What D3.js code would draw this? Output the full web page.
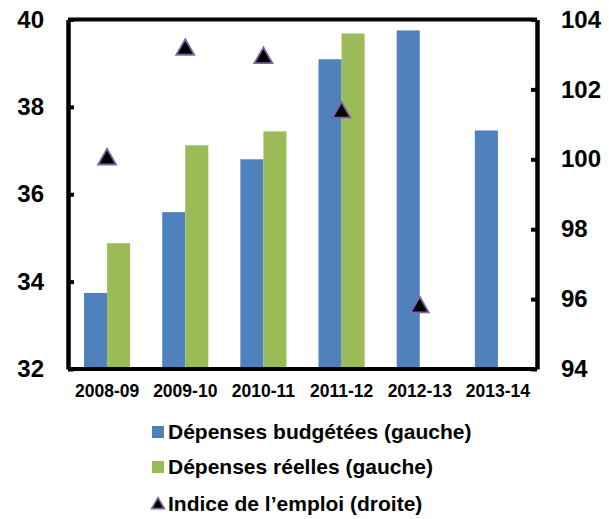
<!DOCTYPE html>
<html>
<head>
<meta charset="utf-8">
<script src="https://cdn.jsdelivr.net/npm/d3@7"></script>
<style>
  body { margin: 0; background: #fff; }
  text { font-family: "Liberation Sans", Arial, sans-serif; font-weight: bold; }
</style>
</head>
<body>
<svg id="chart" width="609" height="519"></svg>
<script>
// Fiscal years
const categories = ["2008-09", "2009-10", "2010-11", "2011-12", "2012-13", "2013-14"];
// Budgeted spending (left axis)
const budgeted = [33.74, 35.59, 36.8, 39.09, 39.75, 37.46];
// Actual spending (left axis)
const actual = [34.88, 37.12, 37.44, 39.68, null, null];
// Employment index (right axis)
const employment = [100.0, 103.14, 102.9, 101.34, 95.77, null];
const leftTicks = [32, 34, 36, 38, 40];
const rightTicks = [94, 96, 98, 100, 102, 104];
const legendLabels = ["Dépenses budgétées (gauche)", "Dépenses réelles (gauche)", "Indice de l’emploi (droite)"];

const blue = "#4F81BD", green = "#9BBB59", purple = "#7F63A8";
const font = "'Liberation Sans', Arial, sans-serif";
const svg = d3.select("#chart");
const m = { left: 68, right: 537, top: 19.5, bottom: 369 };

const x = d3.scaleBand().domain(categories).range([m.left, m.right]).paddingInner(0.41).paddingOuter(0.205);
const xs = d3.scaleBand().domain(["b", "a"]).range([0, x.bandwidth()]);
const yL = d3.scaleLinear().domain([32, 40]).range([m.bottom, m.top]);
const yR = d3.scaleLinear().domain([94, 104]).range([m.bottom, m.top]);

// Bars
const series = [{ key: "b", vals: budgeted, color: blue }, { key: "a", vals: actual, color: green }];
series.forEach(s => {
  svg.append("g").selectAll("rect")
    .data(categories.map((c, i) => ({ c, v: s.vals[i] })).filter(d => d.v != null))
    .join("rect")
    .attr("x", d => x(d.c) + xs(s.key))
    .attr("width", xs.bandwidth())
    .attr("y", d => yL(d.v))
    .attr("height", d => yL(32) - yL(d.v))
    .attr("fill", s.color);
});

// Frame: top line and bottom axis line
svg.append("line").attr("x1", m.left).attr("x2", m.right).attr("y1", m.top).attr("y2", m.top)
  .attr("stroke", "#000").attr("stroke-width", 4);
svg.append("line").attr("x1", m.left).attr("x2", m.right).attr("y1", m.bottom).attr("y2", m.bottom)
  .attr("stroke", "#000").attr("stroke-width", 4);

function styleAxis(g, size) {
  g.select(".domain").attr("stroke-width", 4.5);
  g.selectAll(".tick line").attr("stroke-width", 4);
  g.selectAll(".tick text").attr("font-size", size).attr("fill", "#000")
    .attr("font-family", font).attr("font-weight", "bold");
}

// Left axis
const gl = svg.append("g").attr("transform", `translate(${m.left},0)`)
  .call(d3.axisLeft(yL).tickValues(leftTicks).tickSize(-6).tickSizeOuter(0).tickPadding(24).tickFormat(d3.format("d")));
styleAxis(gl, 24);

// Right axis
const gr = svg.append("g").attr("transform", `translate(${m.right},0)`)
  .call(d3.axisRight(yR).tickValues(rightTicks).tickSize(-6).tickSizeOuter(0).tickPadding(24).tickFormat(d3.format("d")));
styleAxis(gr, 24);

// Category labels
const gx = svg.append("g").attr("transform", `translate(0,${m.bottom})`)
  .call(d3.axisBottom(x).tickSize(0).tickPadding(16));
gx.select(".domain").remove();
styleAxis(gx, 17.5);

// Employment index triangles
const tri = d3.symbol().type(d3.symbolTriangle).size(140);
svg.append("g").selectAll("path")
  .data(categories.map((c, i) => ({ c, v: employment[i] })).filter(d => d.v != null))
  .join("path")
  .attr("d", tri)
  .attr("transform", d => `translate(${x(d.c) + x.bandwidth() / 2},${yR(d.v)})`)
  .attr("fill", "#000").attr("stroke", purple).attr("stroke-width", 1.8);

// Legend
const lg = svg.append("g");
const ly = [432, 467, 504];
lg.append("rect").attr("x", 152).attr("y", ly[0] - 6).attr("width", 12).attr("height", 12).attr("fill", blue);
lg.append("rect").attr("x", 152).attr("y", ly[1] - 6).attr("width", 12).attr("height", 12).attr("fill", green);
lg.append("path").attr("d", d3.symbol().type(d3.symbolTriangle).size(70))
  .attr("transform", `translate(158,${ly[2] + 1})`)
  .attr("fill", "#000").attr("stroke", purple).attr("stroke-width", 1.6);
legendLabels.forEach((t, i) => {
  lg.append("text").attr("x", 168).attr("y", ly[i]).attr("dy", "0.35em")
    .attr("font-size", 21).attr("fill", "#000").text(t);
});
</script>
</body>
</html>
